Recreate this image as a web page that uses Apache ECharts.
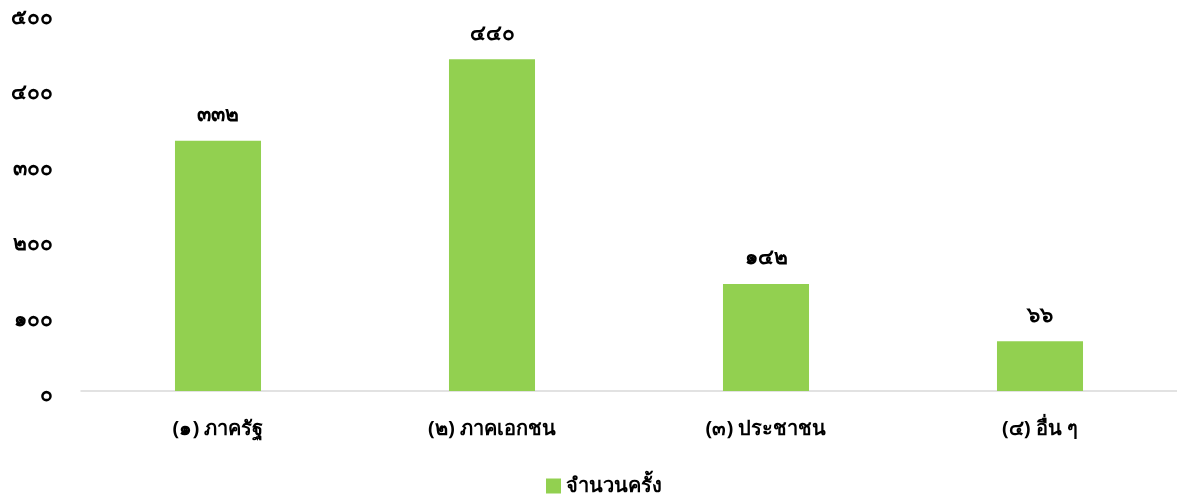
<!DOCTYPE html>
<html>
<head>
<meta charset="utf-8">
<script src="https://cdn.jsdelivr.net/npm/echarts@6/dist/echarts.min.js"></script>
<style>
html,body{margin:0;padding:0;background:#fff;}
#chart{width:1177px;height:497px;}
</style>
</head>
<body>
<div id="chart"></div>
<script>
const categories = ['(๑) ภาครัฐ', '(๒) ภาคเอกชน', '(๓) ประชาชน', '(๔) อื่น ๆ'];
const seriesName = 'จำนวนครั้ง';
const values = [332, 440, 142, 66];
const yTicks = { min: 0, max: 500, interval: 100 };

const thaiDigits = ['๐','๑','๒','๓','๔','๕','๖','๗','๘','๙'];
function toThai(n) { return String(n).replace(/[0-9]/g, d => thaiDigits[+d]); }

const FONT = '"Noto Sans", "Leelawadee UI", Tahoma, sans-serif';
const chart = echarts.init(document.getElementById('chart'));
chart.setOption({
  animation: false,
  textStyle: { fontFamily: FONT },
  grid: { left: 81, right: 0, top: 14, bottom: 106, containLabel: false },
  legend: {
    bottom: -4, left: 541,
    itemWidth: 15, itemHeight: 15, itemGap: 7,
    icon: 'rect',
    textStyle: { fontSize: 20, fontWeight: 'bold', color: '#000', fontFamily: FONT },
    data: [seriesName]
  },
  xAxis: {
    type: 'category', data: categories,
    axisLine: { lineStyle: { color: '#d9d9d9', width: 1.5 } },
    axisTick: { show: false },
    axisLabel: { color: '#000', fontSize: 20, fontWeight: 'bold', margin: 28, fontFamily: FONT }
  },
  yAxis: {
    type: 'value', min: yTicks.min, max: yTicks.max, interval: yTicks.interval,
    splitLine: { show: false },
    axisLine: { show: false }, axisTick: { show: false },
    axisLabel: { color: '#000', fontSize: 21, fontWeight: 'bold', margin: 28, verticalAlign: 'top', lineHeight: 8, fontFamily: FONT, formatter: v => toThai(v) }
  },
  series: [{
    name: seriesName, type: 'bar', data: values,
    barWidth: '31.4%',
    itemStyle: { color: '#92d050' },
    label: { show: true, position: 'top', distance: 15, color: '#000', fontSize: 21, fontWeight: 'bold', fontFamily: FONT, formatter: p => toThai(p.value) }
  }]
});
</script>
</body>
</html>
